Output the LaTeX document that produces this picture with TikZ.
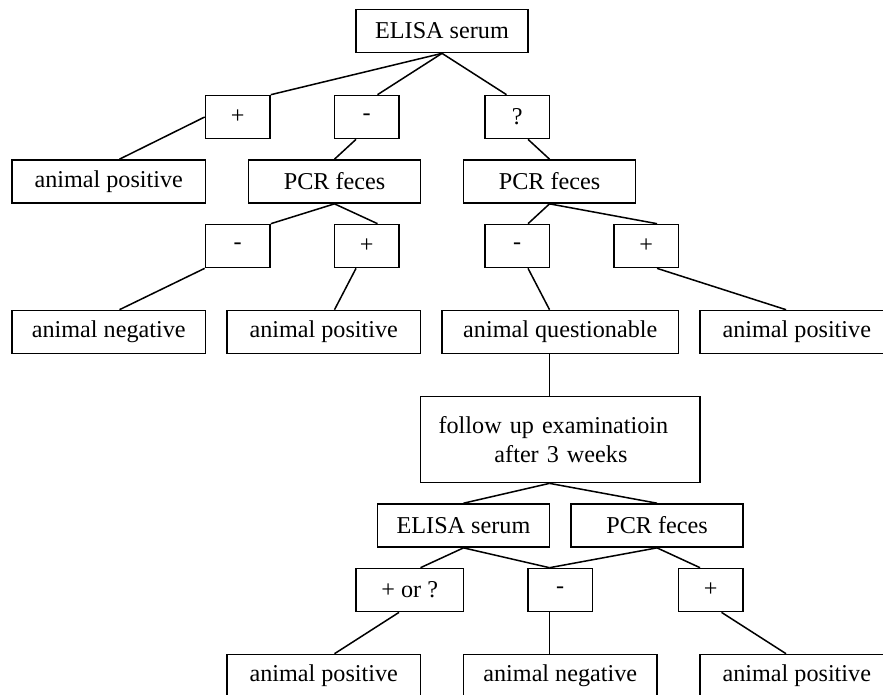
\documentclass[tikz,border=0pt]{standalone}
\usepackage{fontspec}
\setmainfont{Liberation Serif}
\usepackage{tikz}

\tikzset{
    box/.style={draw, rectangle, line width=1.1pt, inner sep=0pt, minimum height=1cm, font=\fontsize{16}{19}\selectfont},
    sign/.style={box, minimum width=1.5cm},
    wide/.style={box, minimum width=4.5cm},
    test/.style={box, minimum width=4cm},
    link/.style={line width=1pt}
}

\begin{document}
\begin{tikzpicture}[x=0.5cm,y=-0.5cm]
        \useasboundingbox (-0.558,-0.442) rectangle (40.51,31.88);
        \clip (-0.558,-0.442) rectangle (40.51,31.88); % right and bottom boxes are cut

        % first test
        \node[test] (elisa) at (20,1) {ELISA serum};
        \node[sign] (pos1) at (10.5,5) {+};
        \node[sign] (neg1) at (16.5,5) {-};
        \node[sign] (que1) at (23.5,5) {?};
        \node[wide] (res1) at (4.5,8) {animal positive};
        \node[test] (pcr1) at (15,8) {PCR feces};
        \node[test] (pcr2) at (25,8) {PCR feces};
        \node[sign] (neg2) at (10.5,11) {-};
        \node[sign] (pos2) at (16.5,11) {+};
        \node[sign] (neg3) at (23.5,11) {-};
        \node[sign] (pos3) at (29.5,11) {+};
        \node[wide] (res2) at (4.5,15) {animal negative};
        \node[wide] (res3) at (14.5,15) {animal positive};
        \node[box, minimum width=5.5cm] (quest) at (25.5,15) {animal questionable};
        \node[wide] (res4) at (36.5,15) {animal positive};

        % follow up
        \node[box, minimum width=6.5cm, minimum height=2cm, inner xsep=0.42cm, text width=5.66cm, align=left] (follow) at (25.5,20)
        {follow up examinatioin\\\hspace*{37pt}after 3 weeks};
        \node[test] (elisa2) at (21,24) {ELISA serum};
        \node[test] (pcr3) at (30,24) {PCR feces};
        \node[box, minimum width=2.5cm] (posq) at (18.5,27) {+ or ?};
        \node[sign] (neg4) at (25.5,27) {-};
        \node[sign] (pos4) at (32.5,27) {+};
        \node[wide] (res5) at (14.5,31) {animal positive};
        \node[wide] (res6) at (25.5,31) {animal negative};
        \node[wide] (res7) at (36.5,31) {animal positive};

        % connectors
        \draw[link] (elisa.south) -- (pos1.north east);
        \draw[link] (elisa.south) -- ([xshift=0.25cm]neg1.north);
        \draw[link] (elisa.south) -- ([xshift=-0.25cm]que1.north);
        \draw[link] (pos1.west) -- ([xshift=0.25cm]res1.north);
        \draw[link] ([xshift=-0.25cm]neg1.south) -- (pcr1.north);
        \draw[link] ([xshift=0.25cm]que1.south) -- (pcr2.north);
        \draw[link] (pcr1.south) -- (neg2.north east);
        \draw[link] (pcr1.south) -- ([xshift=0.25cm]pos2.north);
        \draw[link] (pcr2.south) -- ([xshift=0.25cm]neg3.north);
        \draw[link] (pcr2.south) -- ([xshift=0.25cm]pos3.north);
        \draw[link] (neg2.south west) -- ([xshift=0.25cm]res2.north);
        \draw[link] ([xshift=-0.25cm]pos2.south) -- ([xshift=0.25cm]res3.north);
        \draw[link] ([xshift=0.25cm]neg3.south) -- ([xshift=-0.25cm]quest.north);
        \draw[link] ([xshift=0.25cm]pos3.south) -- ([xshift=-0.25cm]res4.north);
        \draw[link] ([xshift=-0.25cm]quest.south) -- ([xshift=-0.25cm]follow.north);
        \draw[link] ([xshift=-0.25cm]follow.south) -- (elisa2.north);
        \draw[link] ([xshift=-0.25cm]follow.south) -- (pcr3.north);
        \draw[link] (elisa2.south) -- ([xshift=0.25cm]posq.north);
        \draw[link] (elisa2.south) -- ([xshift=-0.25cm]neg4.north);
        \draw[link] (pcr3.south) -- ([xshift=-0.25cm]neg4.north);
        \draw[link] (pcr3.south) -- ([xshift=-0.25cm]pos4.north);
        \draw[link] ([xshift=-0.25cm]posq.south) -- ([xshift=0.25cm]res5.north);
        \draw[link] ([xshift=-0.25cm]neg4.south) -- ([xshift=-0.25cm]res6.north);
        \draw[link] ([xshift=0.25cm]pos4.south) -- ([xshift=-0.25cm]res7.north);
\end{tikzpicture}
\end{document}
